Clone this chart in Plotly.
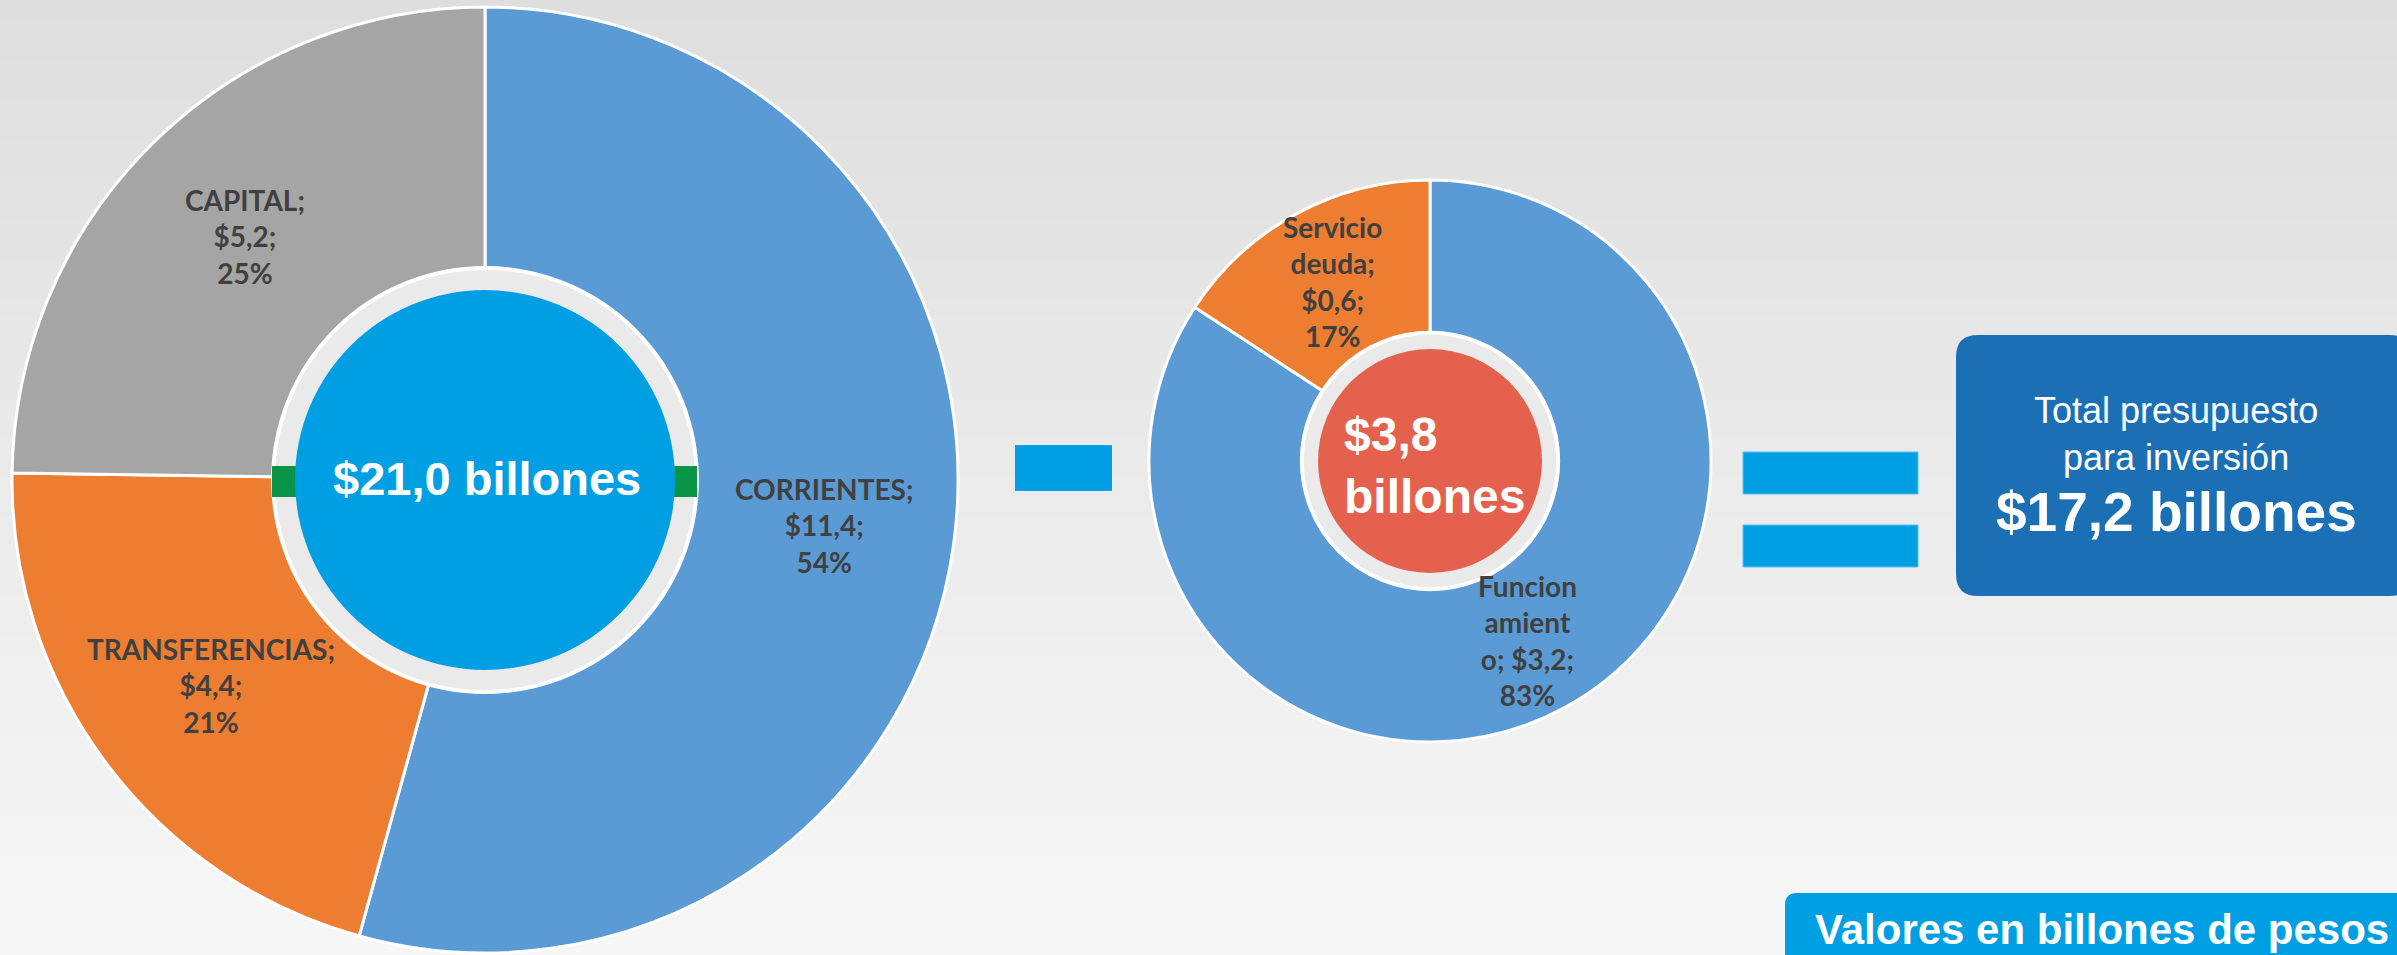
import math
import plotly.graph_objects as go

W, H = 2397, 955

# Ingresos totales por fuente (billones de pesos)
ing_cats = ["CORRIENTES", "TRANSFERENCIAS", "CAPITAL"]
ing_vals = [11.4, 4.4, 5.2]
ing_pct = [54, 21, 25]
ing_colors = ["#5B9BD5", "#ED7D31", "#A5A5A5"]

# Gastos descontados (billones de pesos)
ded_cats = ["Funcionamiento", "Servicio deuda"]
ded_vals = [3.2, 0.6]
ded_pct = [83, 17]
ded_colors = ["#5B9BD5", "#ED7D31"]
# how each category name wraps inside its label, and what follows it
ded_label_names = ["Funcion<br>amient<br>o", "Servicio<br>deuda"]
ded_label_seps = [" ", "<br>"]

total_ing = sum(ing_vals)
total_ded = sum(ded_vals)
total_inv = total_ing - total_ded


def money(v):
    return f"${v:.1f}".replace(".", ",")


# pixel geometry of the two donuts
BIG = dict(cx=485, cy=480, r=473, hole=0.448)
SMALL = dict(cx=1430, cy=461, r=281, hole=0.456)


def domain(g):
    return dict(
        x=[(g["cx"] - g["r"]) / W, (g["cx"] + g["r"]) / W],
        y=[1 - (g["cy"] + g["r"]) / H, 1 - (g["cy"] - g["r"]) / H],
    )


def px(x):
    return x / W


def py(y):
    return 1 - y / H


def circle(cx, cy, r, fill, line_color=None, line_width=0):
    return dict(
        type="circle", xref="paper", yref="paper", layer="above",
        x0=px(cx - r), x1=px(cx + r), y0=py(cy + r), y1=py(cy - r),
        fillcolor=fill,
        line=dict(color=line_color or fill, width=line_width),
    )


def rect(x0, y0, x1, y1, fill, line_color=None, line_width=0, layer="above"):
    return dict(
        type="rect", xref="paper", yref="paper", layer=layer,
        x0=px(x0), x1=px(x1), y0=py(y1), y1=py(y0),
        fillcolor=fill,
        line=dict(color=line_color or fill, width=line_width),
    )


def rounded_rect(x0, y0, x1, y1, rad, fill):
    rx, ry = rad / W, rad / H
    a, b = px(x0), px(x1)
    top, bot = py(y0), py(y1)
    path = (
        f"M {a + rx},{top} L {b - rx},{top} Q {b},{top} {b},{top - ry} "
        f"L {b},{bot + ry} Q {b},{bot} {b - rx},{bot} "
        f"L {a + rx},{bot} Q {a},{bot} {a},{bot + ry} "
        f"L {a},{top - ry} Q {a},{top} {a + rx},{top} Z"
    )
    return dict(type="path", xref="paper", yref="paper", layer="above",
                path=path, fillcolor=fill, line=dict(color=fill, width=0))


def label_positions(vals, g):
    """Centre of each slice: middle of the ring along the bisecting angle."""
    tot = sum(vals)
    out, cum = [], 0.0
    rmid = g["r"] * (1 + g["hole"]) / 2
    for v in vals:
        theta = 2 * math.pi * (cum + v / 2) / tot  # clockwise from 12 o'clock
        out.append((g["cx"] + rmid * math.sin(theta), g["cy"] - rmid * math.cos(theta)))
        cum += v
    return out


fig = go.Figure()

pie_common = dict(
    direction="clockwise", sort=False, rotation=0, textinfo="none",
    hoverinfo="label+value+percent", showlegend=False,
)

fig.add_trace(go.Pie(
    labels=ing_cats, values=ing_vals, hole=BIG["hole"], domain=domain(BIG),
    marker=dict(colors=ing_colors, line=dict(color="white", width=3)),
    **pie_common,
))
fig.add_trace(go.Pie(
    labels=ded_cats, values=ded_vals, hole=SMALL["hole"], domain=domain(SMALL),
    marker=dict(colors=ded_colors, line=dict(color="white", width=3)),
    **pie_common,
))

shapes = []

# soft vertical background gradient
n_bands = 48
for i in range(n_bands):
    c = round(222 + (247 - 222) * i / (n_bands - 1))
    shapes.append(rect(-2, H * i / n_bands, W + 2, H * (i + 1) / n_bands + 1,
                       f"rgb({c},{c},{c})", layer="below"))

# centre of the big donut
shapes.append(circle(BIG["cx"], BIG["cy"], BIG["r"] * BIG["hole"], "#EAEAEA", "white", 4))
shapes.append(rect(BIG["cx"] - 213, BIG["cy"] - 14, BIG["cx"] + 212, BIG["cy"] + 17, "#0A9447"))
shapes.append(circle(BIG["cx"], BIG["cy"], 190, "#009FE3"))

# centre of the small donut
shapes.append(circle(SMALL["cx"], SMALL["cy"], SMALL["r"] * SMALL["hole"], "#EAEAEA", "white", 4))
shapes.append(circle(SMALL["cx"], SMALL["cy"], 112, "#E4624D"))

# minus and equals signs
shapes.append(rect(1015, 445, 1112, 491, "#009FE3"))
shapes.append(rect(1743, 452, 1918, 494, "#009FE3", "#5CC3EE", 1))
shapes.append(rect(1743, 525, 1918, 567, "#009FE3", "#5CC3EE", 1))

# result box and units note
shapes.append(rounded_rect(1956, 335, 2412, 596, 22, "#1B70B5"))
shapes.append(rounded_rect(1785, 893, 2412, 975, 12, "#009FE3"))

annotations = []
LABEL_FONT = dict(family="Lato, Carlito, 'Open Sans', sans-serif", size=28,
                  color="#404040", weight="bold")

for (x, y), name, v, p in zip(label_positions(ing_vals, BIG), ing_cats, ing_vals, ing_pct):
    annotations.append(dict(
        x=px(x), y=py(y), xref="paper", yref="paper", showarrow=False,
        xanchor="center", yanchor="middle", align="center",
        text=f"{name};<br>{money(v)};<br>{p}%", font=LABEL_FONT,
    ))

for (x, y), name, sep, v, p in zip(label_positions(ded_vals, SMALL), ded_label_names,
                                   ded_label_seps, ded_vals, ded_pct):
    annotations.append(dict(
        x=px(x), y=py(y), xref="paper", yref="paper", showarrow=False,
        xanchor="center", yanchor="middle", align="center",
        text=f"{name};{sep}{money(v)};<br>{p}%", font=LABEL_FONT,
    ))

SANS = "Liberation Sans, Arial, sans-serif"

annotations.append(dict(
    x=px(BIG["cx"] + 2), y=py(BIG["cy"] - 2), xref="paper", yref="paper", showarrow=False,
    xanchor="center", yanchor="middle",
    text=f"{money(total_ing)} billones",
    font=dict(family=SANS, size=47, color="white", weight="bold"),
))
annotations.append(dict(
    x=px(1342), y=py(SMALL["cy"] + 4), xref="paper", yref="paper", showarrow=False,
    xanchor="left", yanchor="middle", align="left",
    text=f"{money(total_ded)}<br>billones",
    font=dict(family=SANS, size=48, color="white", weight="bold"),
))
annotations.append(dict(
    x=px(2176), y=py(434), xref="paper", yref="paper", showarrow=False,
    xanchor="center", yanchor="middle", align="center",
    text="Total presupuesto<br>para inversión",
    font=dict(family=SANS, size=36, color="white"),
))
annotations.append(dict(
    x=px(2176), y=py(512), xref="paper", yref="paper", showarrow=False,
    xanchor="center", yanchor="middle",
    text=f"{money(total_inv)} billones",
    font=dict(family=SANS, size=55, color="white", weight="bold"),
))
annotations.append(dict(
    x=px(2102), y=py(929), xref="paper", yref="paper", showarrow=False,
    xanchor="center", yanchor="middle",
    text="Valores en billones de pesos",
    font=dict(family=SANS, size=42, color="white", weight="bold"),
))

fig.update_layout(
    width=W, height=H,
    margin=dict(l=0, r=0, t=0, b=0),
    paper_bgcolor="#EBEBEB",
    shapes=shapes,
    annotations=annotations,
)

fig.write_html("out.html")
